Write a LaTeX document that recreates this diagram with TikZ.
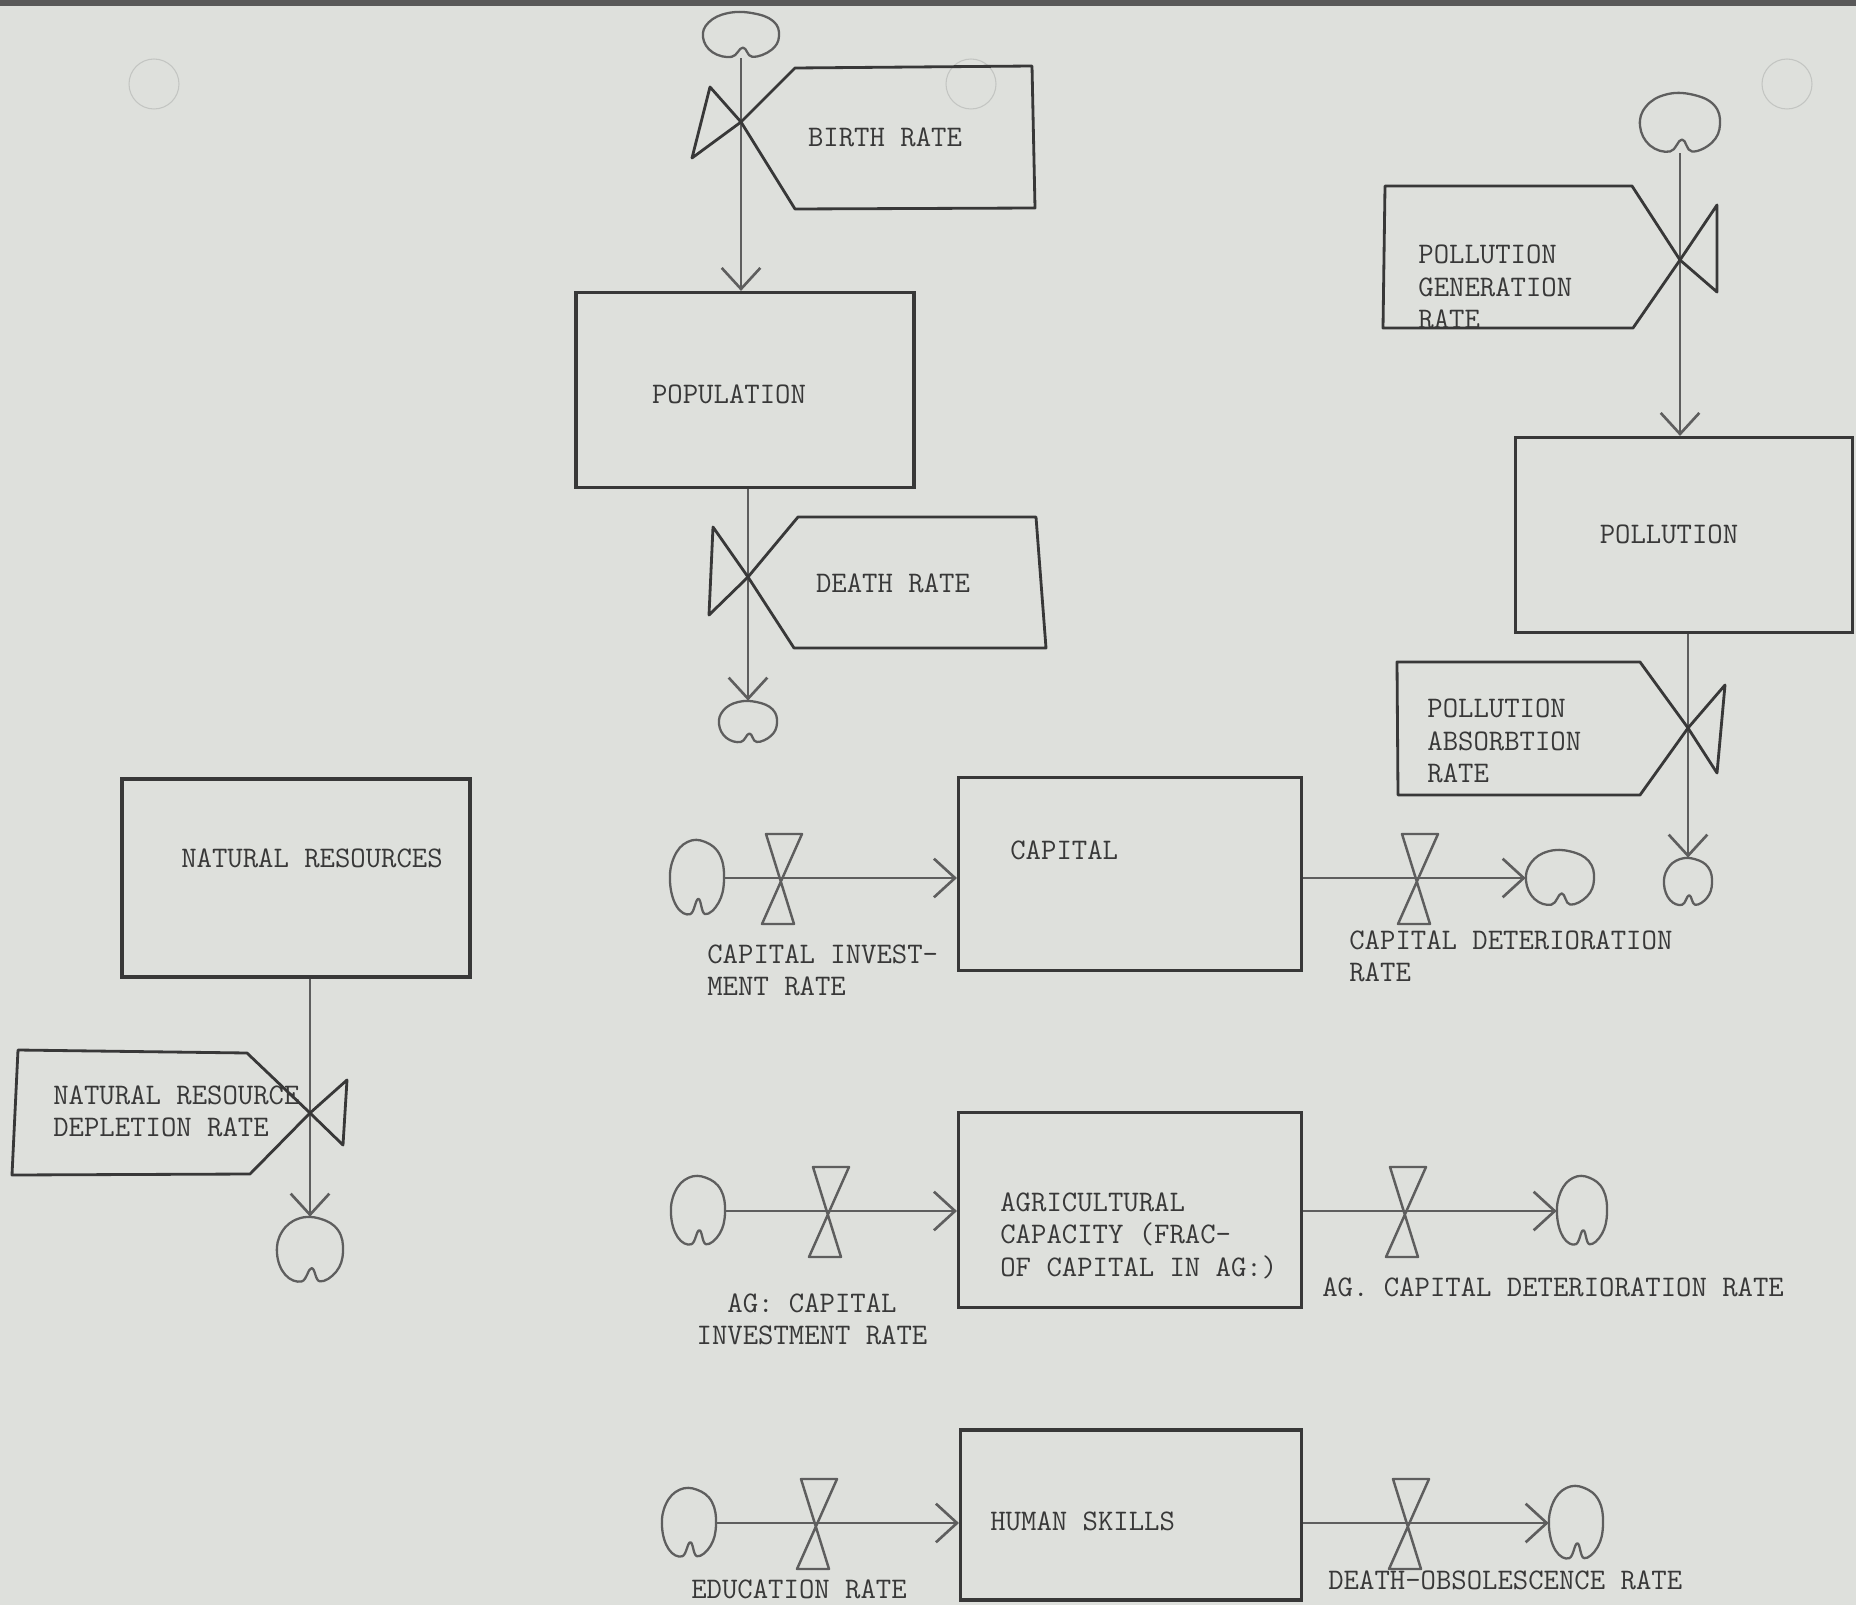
\documentclass[tikz,border=0pt]{standalone}
\usepackage{fontspec}
\usetikzlibrary{arrows.meta, positioning}
\definecolor{paper}{HTML}{DEE0DC}
\definecolor{ink}{HTML}{383838}
\definecolor{pencil}{HTML}{5E5E5E}
\newcommand{\typew}{\ttfamily\fontsize{17}{18.5}\selectfont}
\tikzset{
    stock/.style={draw=ink, line width=1.8pt, inner sep=0pt}, % level boxes
    flow/.style={draw=pencil, line width=1.5pt, -{Straight Barb[length=12pt, width=22pt]}}, % rate pipes
    flagline/.style={draw=ink, line width=1.6pt, line join=round},
    valveline/.style={draw=pencil, line width=1.4pt, line join=round},
    source/.style 2 args={rectangle, minimum width=#1*0.04cm, minimum height=#2*0.04cm, inner sep=0pt}, % cloud anchor box
    lbl/.style={font=\typew, text=ink, align=left, inner sep=0pt},
    gate/.pic={\draw[valveline] (-16,-44) -- (20,-44) -- (-20,46) -- (12,46) -- cycle;}, % hourglass valve
    blob/.pic={\draw[valveline, line width=1.3pt] plot[smooth cycle, tension=0.7] coordinates
        {(-1,0.1) (-0.85,-0.55) (-0.35,-0.95) (0.3,-0.95) (0.85,-0.6) (1,0.05) (0.8,0.65) (0.3,0.95) (0.05,0.55) (-0.25,0.95) (-0.75,0.75)};},
}
\begin{document}
\begin{tikzpicture}[x=0.02cm, y=-0.02cm]
    \useasboundingbox (0,0) rectangle (1856,1605);
    \fill[paper] (0,0) rectangle (1856,1605);
    \fill[black!65] (0,0) rectangle (1856,6);
    \foreach \hx in {154, 971, 1787}
        \draw[paper!88!black, line width=0.6pt] (\hx,84) circle (0.5cm);

    % levels
    \node[stock, minimum width=6.76cm, minimum height=3.9cm] (pop) at (745,390) {};
    \node[stock, minimum width=6.74cm, minimum height=3.9cm] (pol) at (1684,535) {};
    \node[stock, minimum width=6.96cm, minimum height=3.96cm] (nat) at (296,878) {};
    \node[stock, minimum width=6.86cm, minimum height=3.86cm] (cap) at (1130,874) {};
    \node[stock, minimum width=6.86cm, minimum height=3.9cm] (agr) at (1130,1210) {};
    \node[stock, minimum width=6.82cm, minimum height=3.4cm] (hum) at (1131,1515) {};

    % sources and sinks
    \foreach \c/\px/\py/\rx/\ry in {bsrc/741/35/38/23, dsnk/748/722/29/21, gsrc/1680/123/40/30,
            asnk/1688/882/24/24, nsnk/310/1250/33/33, cisrc/697/878/27/38, cdsnk/1560/878/34/28,
            aisrc/698/1211/27/35, adsnk/1582/1211/25/35, esrc/689/1523/27/35, osnk/1576/1523/27/37} {
        \node[source={\rx}{\ry}] (\c) at (\px,\py) {};
        \pic[xscale=\rx, yscale=\ry] at (\c) {blob};
    }

    % valves
    \coordinate (bv) at (741,122);
    \coordinate (dv) at (748,577);
    \coordinate (gv) at (1680,260);
    \coordinate (av) at (1688,728);
    \coordinate (nv) at (310,1113);
    \coordinate (civ) at (782,878);
    \coordinate (cdv) at (1418,878);
    \coordinate (aiv) at (829,1211);
    \coordinate (adv) at (1406,1211);
    \coordinate (ev) at (817,1523);
    \coordinate (ov) at (1409,1523);

    % pipes
    \draw[flow] (bsrc) -- (bv) -- (bv |- pop.north);
    \draw[flow] (pop.south -| dv) -- (dv) -- (dsnk);
    \draw[flow] (gsrc) -- (gv) -- (gv |- pol.north);
    \draw[flow] (pol.south -| av) -- (av) -- (asnk);
    \draw[flow] (nat.south -| nv) -- (nv) -- (nsnk);
    \draw[flow] (cisrc) -- (civ) -- (civ -| cap.west);
    \draw[flow] (cap.east |- cdv) -- (cdv) -- (cdsnk);
    \draw[flow] (aisrc) -- (aiv) -- (aiv -| agr.west);
    \draw[flow] (agr.east |- adv) -- (adv) -- (adsnk);
    \draw[flow] (esrc) -- (ev) -- (ev -| hum.west);
    \draw[flow] (hum.east |- ov) -- (ov) -- (osnk);

    % flag valves on the vertical pipes
    \draw[flagline] (bv) -- ++(54,-54) -- ++(237,-2) -- ++(3,142) -- ++(-240,1) -- cycle;
    \draw[flagline] (bv) -- ++(-31,-35) -- ++(-18,71) -- cycle;
    \draw[flagline] (dv) -- ++(50,-60) -- ++(238,0) -- ++(10,131) -- ++(-252,0) -- cycle;
    \draw[flagline] (dv) -- ++(-35,-50) -- ++(-4,88) -- cycle;
    \draw[flagline] (gv) -- ++(-48,-74) -- ++(-247,0) -- ++(-2,142) -- ++(250,0) -- cycle;
    \draw[flagline] (gv) -- ++(37,-55) -- ++(0,87) -- cycle;
    \draw[flagline] (av) -- ++(-48,-66) -- ++(-243,0) -- ++(1,133) -- ++(242,0) -- cycle;
    \draw[flagline] (av) -- ++(37,-43) -- ++(-8,88) -- cycle;
    \draw[flagline] (nv) -- ++(-63,-60) -- ++(-229,-3) -- ++(-6,125) -- ++(238,-1) -- cycle;
    \draw[flagline] (nv) -- ++(37,-33) -- ++(-4,65) -- cycle;

    % hourglass valves on the horizontal pipes
    \foreach \v in {civ, cdv, aiv, adv, ev, ov}
        \pic at (\v) {gate};

    % labels
    \node[lbl] (poptxt) at (729,394) {POPULATION};
    \node[lbl] (poltxt) at (1669,534) {POLLUTION};
    \node[lbl] (nattxt) at (312,858) {NATURAL RESOURCES};
    \node[lbl] (btxt) at (885,137) {BIRTH RATE};
    \node[lbl] (dtxt) at (893,583) {DEATH RATE};
    \node[lbl, anchor=north west] (gtxt) at (1418,245) {POLLUTION\\GENERATION\\RATE};
    \node[lbl, anchor=north west] (atxt) at (1427,699) {POLLUTION\\ABSORBTION\\RATE};
    \node[lbl, anchor=north west] (ntxt) at (53,1085) {NATURAL RESOURCE\\DEPLETION RATE};
    \node[lbl, anchor=base west] (captxt) at (1010,859) {CAPITAL};
    \node[lbl, anchor=north west] (citxt) at (707,944) {CAPITAL INVEST-\\MENT RATE};
    \node[lbl, anchor=north west] (cdtxt) at (1349,930) {CAPITAL DETERIORATION\\RATE};
    \node[lbl, anchor=north west] (agrtxt) at (1000,1192) {AGRICULTURAL\\CAPACITY (FRAC-\\OF CAPITAL IN AG:)};
    \node[lbl, anchor=north, align=center] (aitxt) at (812,1293) {AG: CAPITAL\\INVESTMENT RATE};
    \node[lbl, anchor=base west] (adtxt) at (1322,1296) {AG. CAPITAL DETERIORATION RATE};
    \node[lbl, anchor=base west] (humtxt) at (990,1530) {HUMAN SKILLS};
    \node[lbl, anchor=base] (etxt) at (799,1598) {EDUCATION RATE};
    \node[lbl, anchor=base west] (otxt) at (1328,1589) {DEATH-OBSOLESCENCE RATE};
\end{tikzpicture}
\end{document}
